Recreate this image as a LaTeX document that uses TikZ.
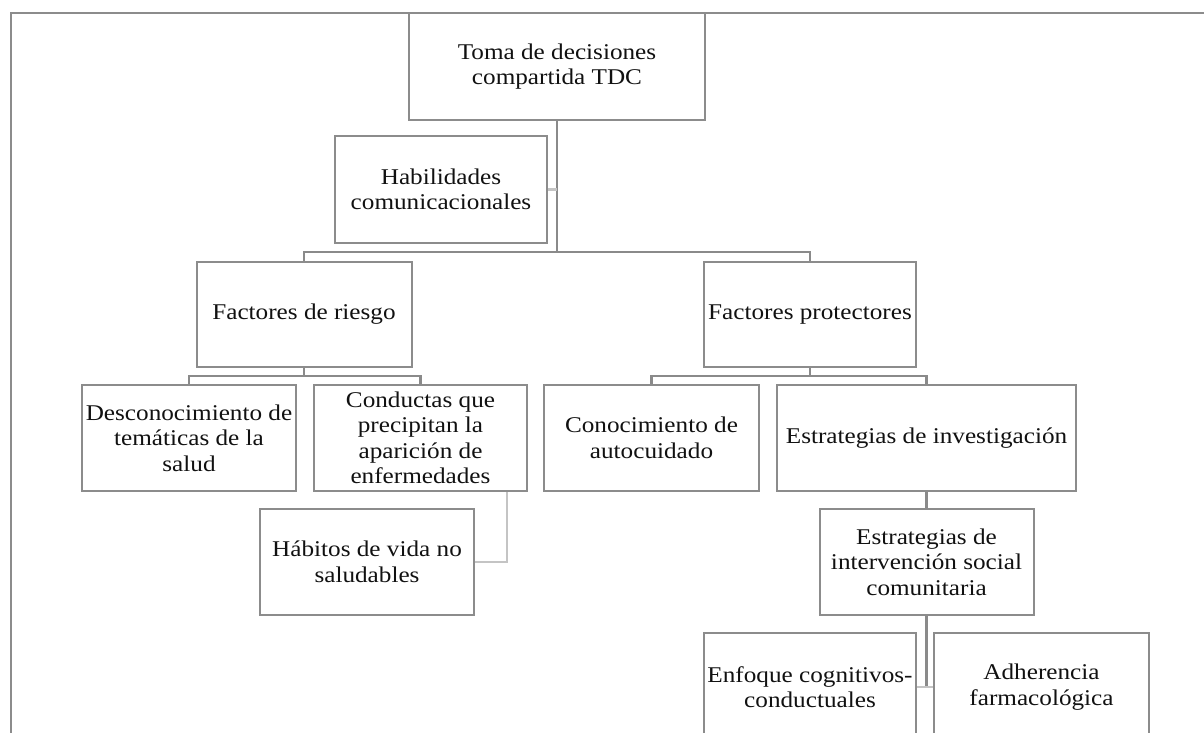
\documentclass[tikz,border=0pt]{standalone}
\usepackage{fontspec}
\setmainfont{Liberation Serif}[FakeStretch=1.12]
\definecolor{boxline}{HTML}{8C8C8C}
\definecolor{linkdark}{HTML}{8A8A8A}
\definecolor{linklight}{HTML}{C4C4C4}
\definecolor{txt}{HTML}{111111}
\begin{document}
\begin{tikzpicture}[x=1pt,y=-1pt,
  box/.style={draw=boxline, line width=2pt, fill=white, inner sep=0pt, align=center,
    text=txt, font=\fontsize{22.5}{25.5}\selectfont},
  link/.style={draw=linkdark, line width=2.4pt},
  lightlink/.style={draw=linklight, line width=2.4pt}]
\useasboundingbox (0,0) rectangle (1204,733);
\clip (0,0) rectangle (1204,733);
\fill[white] (0,0) rectangle (1204,733);
% frame
\draw[draw=boxline, line width=2pt] (11,740) -- (11,13) -- (1210,13);
\coordinate (j1) at (557,252);
\coordinate (j2) at (304,376);
\coordinate (j3) at (810,376);
% nodes
\node[box, minimum width=296, minimum height=107] (top) at (557,66.5) {Toma de decisiones\\compartida TDC};
\node[box, minimum width=212, minimum height=107] (hab) at (441,189.5) {Habilidades\\comunicacionales};
\node[box, minimum width=215, minimum height=105] (riesgo) at (304,314.5) {Factores de riesgo};
\node[box, minimum width=212, minimum height=105] (prot) at (810,314.5) {Factores protectores};
\node[box, minimum width=214, minimum height=106] (desc) at (189,438) {Desconocimiento de\\temáticas de la\\salud};
\node[box, minimum width=213, minimum height=106] (cond) at (420.5,438) {Conductas que\\precipitan la\\aparición de\\enfermedades};
\node[box, minimum width=215, minimum height=106] (conoc) at (651.5,438) {Conocimiento de\\autocuidado};
\node[box, minimum width=299, minimum height=106] (estr) at (926.5,438) {Estrategias de investigación};
\node[box, minimum width=214, minimum height=106] (hab2) at (367,562) {Hábitos de vida no\\saludables};
\node[box, minimum width=214, minimum height=106] (interv) at (926.5,562) {Estrategias de\\intervención social\\comunitaria};
\node[box, minimum width=212, minimum height=108] (enf) at (810,687) {Enfoque cognitivos-\\conductuales};
\node[box, minimum width=215, minimum height=108] (adh) at (1041.5,687) {Adherencia\\farmacológica};
% links
\draw[link] (top.south) -- (j1);
\draw[link] (j1) -| (riesgo.north);
\draw[link] (j1) -| (prot.north);
\draw[lightlink] (hab.east) -- (hab.east -| top.south);
\draw[link] (riesgo.south) -- (j2);
\draw[link] (j2) -| (desc.north);
\draw[link] (j2) -| (cond.north);
\draw[link] (prot.south) -- (j3);
\draw[link] (j3) -| (conoc.north);
\draw[link] (j3) -| (estr.north);
\draw[lightlink] ([xshift=-21pt]cond.south east) |- (hab2.east);
\draw[link] (estr.south) -- (interv.north);
\draw[link] (interv.south) -- (interv.south |- enf.east);
\draw[lightlink] (enf.east) -- (adh.west);
\end{tikzpicture}
\end{document}
